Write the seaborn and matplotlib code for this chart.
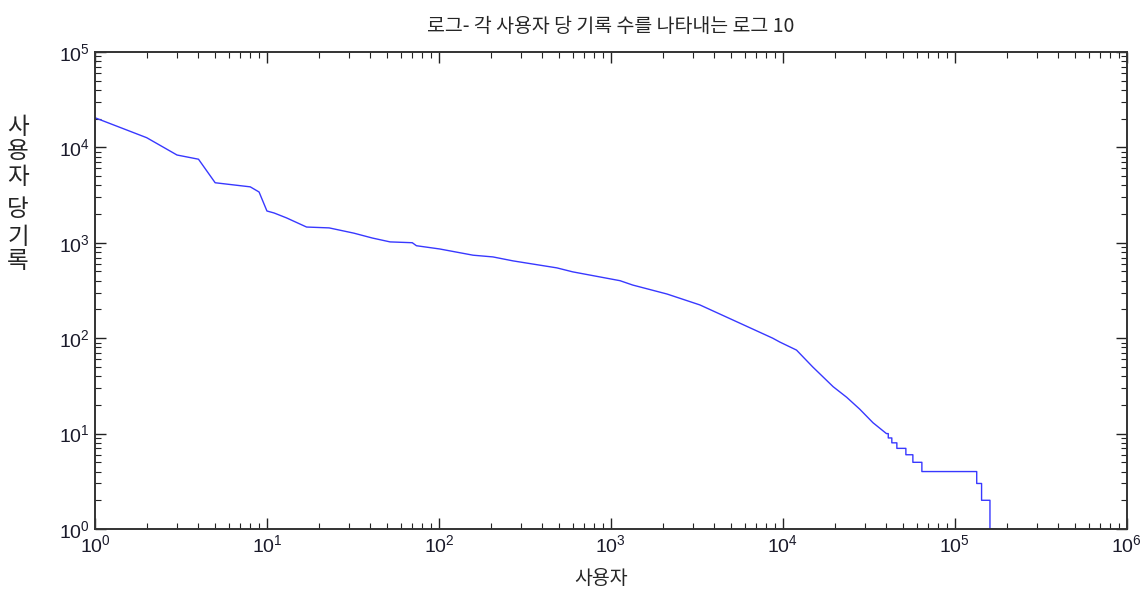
import numpy as np
import pandas as pd
import matplotlib
matplotlib.use("Agg")
import matplotlib.pyplot as plt
import seaborn as sns

# rank of user (sorted by record count) vs number of records, head part
head_rank = [1, 2, 3, 4, 5, 8, 9, 10, 11, 13, 17, 23, 32, 41, 52, 70, 74,
             101, 158, 206, 270, 485, 600, 1130, 1340, 2120, 3290, 5120,
             8720, 9600, 12000, 14900, 19600, 23500, 28000, 33400, 40000]
head_count = [20400, 12600, 8300, 7500, 4250, 3850, 3400, 2150, 2050, 1820,
              1460, 1430, 1260, 1120, 1020, 1000, 930, 860, 740, 710, 645,
              545, 495, 400, 360, 290, 223, 155, 100, 91, 75, 50, 31, 24,
              18, 13, 10]
# tail: integer counts and the rank where each level ends
tail_count = [10, 9, 8, 7, 6, 5, 4, 3, 2, 1]
tail_end = [41000, 43000, 46000, 51900, 57000, 64300, 134000, 143000, 160000, 175000]

xs = list(head_rank)
ys = list(head_count)
for c, r in zip(tail_count, tail_end):
    xs.append(xs[-1]); ys.append(c)
    xs.append(r); ys.append(c)
df = pd.DataFrame({"rank": xs, "count": ys})

sns.set_style("ticks")
plt.rcParams["font.family"] = ["Noto Sans CJK KR", "DejaVu Sans"]

fig = plt.figure(figsize=(11.44, 5.92), dpi=100)
ax = fig.add_axes([0.083, 0.1064, 0.902, 0.806])
sns.lineplot(data=df, x="rank", y="count", sort=False, estimator=None,
             color="#3838ff", lw=1.0, ax=ax)
ax.set_xscale("log")
ax.set_yscale("log")
ax.set_xlim(1, 1e6)
ax.set_ylim(1, 1e5)
ax.set_xlabel("")
ax.set_ylabel("")

for s in ax.spines.values():
    s.set_linewidth(1.4)
    s.set_color("#333333")
ax.tick_params(which="both", direction="in", top=True, right=True,
               colors="#222222", labelsize=14, labelcolor="#1a1a2a",
               labelfontfamily="Liberation Sans")
ax.tick_params(which="major", length=8, width=1.0)
ax.tick_params(which="minor", length=4, width=0.8)

ax.set_title("로그- 각 사용자 당 기록 수를 나타내는 로그 10", fontsize=14, pad=14)
fig.text(601 / 1144, 1 - 578 / 592, "사용자", ha="center", va="center", fontsize=14)

ylab_chars = ["사", "용", "자", "당", "기", "록"]
ylab_py = [128, 152, 177, 210, 238, 262]
for ch, py in zip(ylab_chars, ylab_py):
    fig.text(18 / 1144, 1 - py / 592, ch, ha="center", va="center", fontsize=17)

fig.savefig("out.png", dpi=100)
